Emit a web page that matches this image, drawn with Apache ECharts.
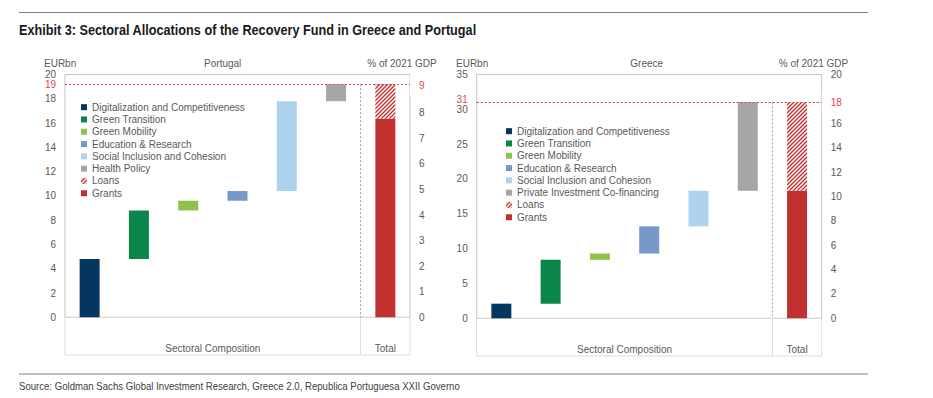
<!DOCTYPE html>
<html><head><meta charset="utf-8">
<script src="https://cdn.jsdelivr.net/npm/echarts@6/dist/echarts.min.js"></script>
<style>html,body{margin:0;padding:0;background:#fff}#c{width:933px;height:398px}</style>
</head><body><div id="c"></div>
<script>
// ---------- DATA ----------
const ptSectors = ['Digitalization and Competitiveness','Green Transition','Green Mobility','Education & Research','Social Inclusion and Cohesion','Health Policy'];
const ptAmounts = [4.8, 4.0, 0.8, 0.8, 7.4, 1.4];   // EURbn
const ptGrants = 16.35;
const ptLoans = 2.85;
const ptRefLabels = ['19', '9'];                   // EURbn, % of 2021 GDP

const grSectors = ['Digitalization and Competitiveness','Green Transition','Green Mobility','Education & Research','Social Inclusion and Cohesion','Private Investment Co-financing'];
const grAmounts = [2.1, 6.3, 0.9, 3.9, 5.1, 12.7];  // EURbn
const grGrants = 18.3;
const grLoans = 12.7;
const grRefLabels = ['31', '18'];

const xGroups = ['Sectoral Composition', 'Total'];
const fundingNames = ['Loans', 'Grants'];
const ptLeftAxis = {min: 0, max: 20, interval: 2};
const ptRightAxis = {min: 0, max: 9.5, interval: 1};
const grLeftAxis = {min: 0, max: 35, interval: 5};
const grRightAxis = {min: 0, max: 20, interval: 2};

const titleText = 'Exhibit 3: Sectoral Allocations of the Recovery Fund in Greece and Portugal';
const sourceText = 'Source: Goldman Sachs Global Investment Research, Greece 2.0, Republica Portuguesa XXII Governo';

// ---------- STYLE ----------
const sectorColors = ['#05365f','#0b8549','#8dc24b','#759ac7','#aed3ef','#a6a6a6'];
const grantColor = '#c0312f';
const refRed = '#e0474c';
const txt = '#595959';
const FONT = '"Liberation Sans", Arial, sans-serif';

function hatchCanvas() {
  const c = document.createElement('canvas');
  c.width = 4; c.height = 4;
  const g = c.getContext('2d');
  g.fillStyle = '#ffffff'; g.fillRect(0, 0, 4, 4);
  g.strokeStyle = grantColor; g.lineWidth = 1.4;
  g.beginPath();
  g.moveTo(0, 4); g.lineTo(4, 0);
  g.moveTo(-1, 1); g.lineTo(1, -1);
  g.moveTo(3, 5); g.lineTo(5, 3);
  g.stroke();
  return c;
}
const loanFill = {image: hatchCanvas(), repeat: 'repeat'};

function textWidth(text, font) {
  const ctx = document.createElement('canvas').getContext('2d');
  ctx.font = font;
  return ctx.measureText(text).width;
}

const layouts = [
  {left: 65, right: 410, top: 74.5, zero: 317.3, bottom: 355, legendLeft: 81, legendTop: 101, refOffsetL: [0, 0.5], refOffsetR: [0, 1.5]},
  {left: 476.7, right: 821.7, top: 74.5, zero: 318.3, bottom: 356, legendLeft: 506, legendTop: 125, refOffsetL: [0, -2.4], refOffsetR: [0, 0]}
];
const charts = [
  {sectors: ptSectors, amounts: ptAmounts, grants: ptGrants, loans: ptLoans, refLabels: ptRefLabels, leftAxis: ptLeftAxis, rightAxis: ptRightAxis, hideRight: 9},
  {sectors: grSectors, amounts: grAmounts, grants: grGrants, loans: grLoans, refLabels: grRefLabels, leftAxis: grLeftAxis, rightAxis: grRightAxis, hideRight: 18}
];

const W = 933, H = 398;
const option = {
  animation: false,
  backgroundColor: '#fff',
  textStyle: {fontFamily: FONT},
  grid: [], xAxis: [], yAxis: [], series: [], legend: [], graphic: []
};

charts.forEach((ch, k) => {
  const L = layouts[k];
  const n = ch.sectors.length;
  const cats = ch.sectors.concat([xGroups[1]]);
  const total = ch.amounts.reduce((a, b) => a + b, 0);
  const gMain = option.grid.length, gBand = gMain + 1;
  option.grid.push({left: L.left, width: L.right - L.left, top: L.top, height: L.zero - L.top,
    show: true, borderColor: '#c4c4c4', borderWidth: 1, backgroundColor: 'transparent'});
  option.grid.push({left: L.left, width: L.right - L.left, top: L.zero, height: L.bottom - L.zero,
    show: true, borderColor: '#dcdcdc', borderWidth: 1, backgroundColor: 'transparent'});

  const xCat = option.xAxis.length;
  option.xAxis.push({type: 'category', gridIndex: gMain, data: cats, boundaryGap: true,
    axisLine: {show: true, lineStyle: {color: '#d9d9d9', width: 1}},
    axisTick: {show: false}, axisLabel: {show: false}, splitLine: {show: false}});
  const xSep = option.xAxis.length;
  option.xAxis.push({type: 'value', gridIndex: gMain, min: 0, max: cats.length, show: false});
  const xBand = option.xAxis.length;
  option.xAxis.push({type: 'value', gridIndex: gBand, min: 0, max: cats.length, position: 'bottom',
    axisLine: {show: false},
    axisTick: {show: true, inside: true, length: L.bottom - L.zero, customValues: [n], lineStyle: {color: '#dcdcdc'}},
    axisLabel: {show: true, inside: true, margin: 2, customValues: [n / 2, n + 0.5], color: txt, fontSize: 10, fontFamily: FONT,
      formatter: v => (v < n ? xGroups[0] : xGroups[1])},
    splitLine: {show: false}});

  const yL = option.yAxis.length;
  option.yAxis.push(Object.assign({type: 'value', gridIndex: gMain, position: 'left',
    axisLine: {show: false}, axisTick: {show: false}, splitLine: {show: false},
    axisLabel: {color: txt, fontSize: 10, fontFamily: FONT, margin: 9}}, ch.leftAxis));
  const yR = option.yAxis.length;
  option.yAxis.push(Object.assign({type: 'value', gridIndex: gMain, position: 'right',
    axisLine: {show: false}, axisTick: {show: false}, splitLine: {show: false},
    axisLabel: {color: txt, fontSize: 10, fontFamily: FONT, margin: 9,
      formatter: v => (Number.isInteger(v) && v !== ch.hideRight ? String(v) : '')}}, ch.rightAxis));
  const yB = option.yAxis.length;
  option.yAxis.push({type: 'value', gridIndex: gBand, show: false, min: 0, max: 1});

  const stack = 's' + k;
  const base = [];
  let run = 0;
  ch.amounts.forEach(a => { base.push(run); run += a; });
  base.push(0);
  const common = {type: 'bar', xAxisIndex: xCat, yAxisIndex: yL, stack: stack, barWidth: 20, silent: true};
  option.series.push(Object.assign({}, common, {name: '_base' + k, data: base,
    itemStyle: {color: 'transparent'},
    markLine: {silent: true, symbol: 'none', animation: false,
      lineStyle: {color: refRed, type: [2, 2], width: 1},
      data: [
        {yAxis: total, label: {show: true, position: 'start', distance: 9, formatter: ch.refLabels[0], color: refRed, fontSize: 10, fontFamily: FONT, offset: L.refOffsetL}},
        {yAxis: total, label: {show: true, position: 'end', distance: 0, formatter: ch.refLabels[1], color: refRed, fontSize: 10, fontFamily: FONT,
          backgroundColor: '#fff', padding: [6, 2, 6, 9], offset: L.refOffsetR}}
      ]}}));
  ch.sectors.forEach((s, i) => {
    const d = cats.map((c, j) => (j === i ? ch.amounts[i] : '-'));
    option.series.push(Object.assign({}, common, {name: s, data: d, itemStyle: {color: sectorColors[i]}}));
  });
  option.series.push(Object.assign({}, common, {name: fundingNames[1],
    data: cats.map((c, j) => (j === n ? ch.grants : '-')), itemStyle: {color: grantColor}}));
  option.series.push(Object.assign({}, common, {name: fundingNames[0],
    data: cats.map((c, j) => (j === n ? ch.loans : '-')), itemStyle: {color: loanFill}}));
  option.series.push({type: 'line', name: '_sep' + k, xAxisIndex: xSep, yAxisIndex: yL, silent: true,
    data: [[n, 0]], symbol: 'none', lineStyle: {opacity: 0},
    markLine: {silent: true, symbol: 'none', animation: false, label: {show: false},
      lineStyle: {color: '#a0a0a0', type: [2, 2], width: 1},
      data: [[{coord: [n, total]}, {coord: [n, 0]}]]}});

  option.legend.push({orient: 'vertical', left: L.legendLeft, top: L.legendTop, padding: 0,
    itemWidth: 6, itemHeight: 6, itemGap: 0, icon: 'rect', selectedMode: false,
    textStyle: {color: txt, fontSize: 10, fontFamily: FONT, lineHeight: 12.3},
    data: ch.sectors.concat(fundingNames)});
});

const gtext = (text, x, y, align, size, color, extra, el) => Object.assign({type: 'text', x: x, y: y, silent: true,
  style: Object.assign({text: text, fill: color, fontSize: size, fontFamily: FONT, align: align, verticalAlign: 'middle'}, extra || {})}, el || {});
const titleScale = 458 / textWidth(titleText, 'bold 14px "Liberation Sans"');
const sourceScale = 441 / textWidth(sourceText, '10px "Liberation Sans"');
option.graphic = [
  {type: 'line', silent: true, shape: {x1: 19, y1: 12.5, x2: 868, y2: 12.5}, style: {stroke: '#808080', lineWidth: 1}},
  {type: 'line', silent: true, shape: {x1: 19, y1: 374, x2: 868, y2: 374}, style: {stroke: '#c0c0c0', lineWidth: 2}},
  gtext(titleText, 19, 30.5, 'left', 14, '#1a1a1a', {fontWeight: 'bold'}, {scaleX: titleScale}),
  gtext(sourceText, 19, 386.5, 'left', 10, '#404040', {}, {scaleX: sourceScale}),
  gtext('EURbn', 44, 63.5, 'left', 10, txt),
  gtext('Portugal', 222.7, 63.5, 'center', 10, txt),
  gtext('% of 2021 GDP', 402, 63.5, 'center', 10, txt),
  gtext('EURbn', 456, 63.5, 'left', 10, txt),
  gtext('Greece', 646.7, 63.5, 'center', 10, txt),
  gtext('% of 2021 GDP', 813.5, 63.5, 'center', 10, txt)
];

const chart = echarts.init(document.getElementById('c'), null, {renderer: 'svg', width: W, height: H});
chart.setOption(option);
</script>
</body></html>
